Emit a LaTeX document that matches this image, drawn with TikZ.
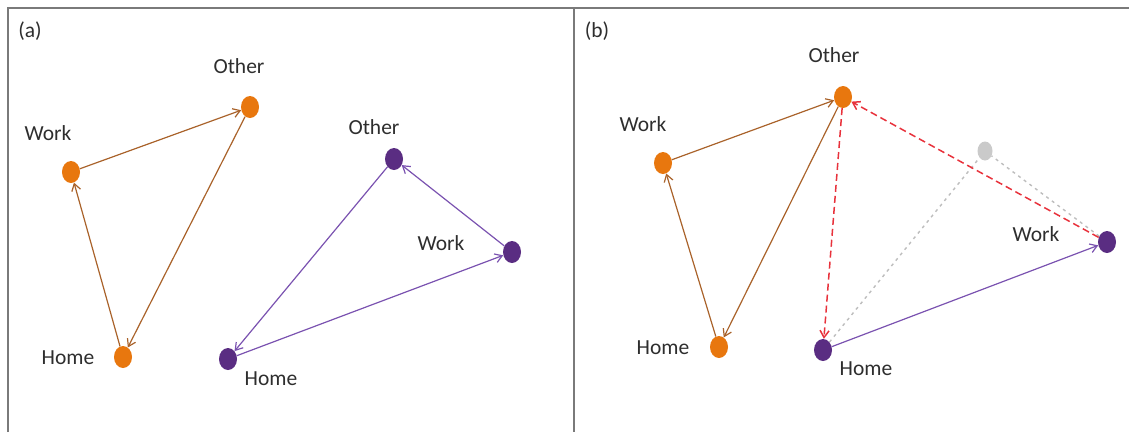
\documentclass[tikz,border=0pt]{standalone}
\usepackage{fontspec}
\setmainfont{Carlito}
\usetikzlibrary{shapes.geometric,arrows.meta}
\definecolor{odotc}{HTML}{E8770E}
\definecolor{pdotc}{HTML}{5A2D82}
\definecolor{oedge}{HTML}{A9622A}
\definecolor{pedge}{HTML}{7A52B0}
\definecolor{redc}{HTML}{E8323C}
\definecolor{labc}{HTML}{2E2E2E}
\definecolor{framec}{HTML}{7A7A7A}
\definecolor{ghost}{HTML}{BDBDBD}
\tikzset{
  dotnode/.style={ellipse, minimum width=18pt, minimum height=22pt, inner sep=0pt, draw=none, fill=#1},
  lab/.style={font=\fontsize{21.5}{24}\selectfont, text=labc, inner sep=0pt},
  tip/.style={-{Straight Barb[length=7pt,width=9pt]}},
  oe/.style={draw=oedge, line width=1.2pt, tip},
  pe/.style={draw=pedge, line width=1.2pt, tip},
  re/.style={draw=redc, line width=1.5pt, dash pattern=on 7pt off 4pt, tip},
  ge/.style={draw=ghost, line width=1.4pt, dash pattern=on 3pt off 4pt},
  framel/.style={draw=framec, line width=2pt},
}
\begin{document}
\begin{tikzpicture}[x=1pt,y=-1pt]
\useasboundingbox (0,0) rectangle (1129,432);
% frame
\draw[framel] (8,432) -- (8,8) -- (1129,8);
\draw[framel] (574,8) -- (574,432);
% panel labels
\node[lab] (la) at (30,31) {(a)};
\node[lab] (lb) at (597,31) {(b)};
% ---------- panel (a)
\node[dotnode=odotc] (aO) at (250,107) {};
\node[dotnode=odotc] (aW) at (71,172) {};
\node[dotnode=odotc] (aH) at (123,357) {};
\node[dotnode=pdotc] (pO) at (394,159) {};
\node[dotnode=pdotc] (pW) at (512,252) {};
\node[dotnode=pdotc] (pH) at (228,359) {};
\node[lab] (aOl) at (239,66) {Other};
\node[lab] (aWl) at (48,133) {Work};
\node[lab] (aHl) at (68,358) {Home};
\node[lab] (pOl) at (374,127) {Other};
\node[lab] (pWl) at (441,243) {Work};
\node[lab] (pHl) at (271,379) {Home};
\draw[oe] (aW) -- (aO);
\draw[oe] (aH) -- (aW);
\draw[oe] (aO) -- (aH);
\draw[pe] (pW) -- (pO);
\draw[pe] (pO) -- (pH);
\draw[pe] (pH) -- (pW);
% ---------- panel (b)
\node[ellipse, minimum width=15pt, minimum height=19pt, inner sep=0pt, fill=ghost!80] (gO) at (985,151) {};
\node[dotnode=odotc] (bO) at (843,97) {};
\node[dotnode=odotc] (bW) at (663,163) {};
\node[dotnode=odotc] (bH) at (719,347) {};
\node[dotnode=pdotc] (bpH) at (823,350) {};
\node[dotnode=pdotc] (bpW) at (1107,242) {};
\node[lab] (bOl) at (834,55) {Other};
\node[lab] (bWl) at (643,124) {Work};
\node[lab] (bHl) at (663,348) {Home};
\node[lab] (bpHl) at (866,369) {Home};
\node[lab] (bpWl) at (1036,234) {Work};
\draw[ge] (bpH) -- (gO);
\draw[ge] (bpW) -- (gO);
\draw[oe] (bW) -- (bO);
\draw[oe] (bH) -- (bW);
\draw[oe] (bO) -- (bH);
\draw[pe] (bpH) -- (bpW);
\draw[re] (bpW) -- (bO);
\draw[re] (bO) -- (bpH);
\end{tikzpicture}
\end{document}
